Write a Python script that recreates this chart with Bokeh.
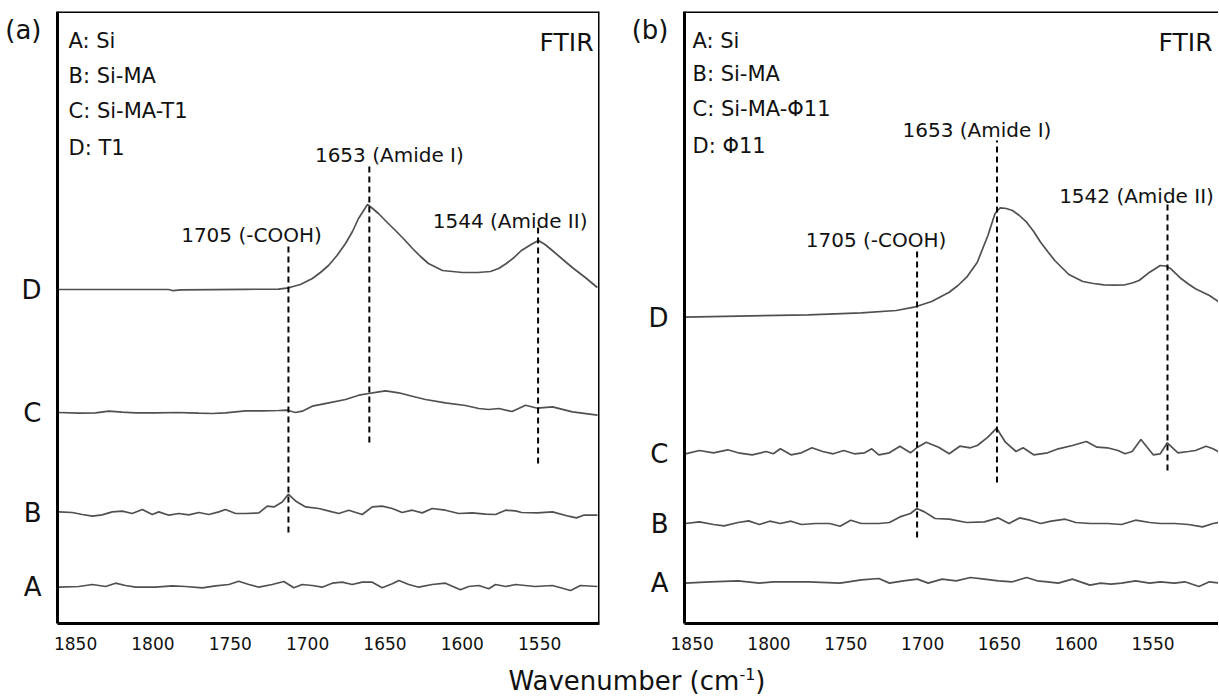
from bokeh.plotting import figure
from bokeh.models import Range1d, FixedTicker, Label, Span, Div
from bokeh.layouts import row, column
from bokeh.embed import file_html
from bokeh.resources import INLINE

FONT = "DejaVu Sans"

# ---------------- data: panel (a) ----------------
tick_values = [1850, 1800, 1750, 1700, 1650, 1600, 1550]
spectrum_names = ["A", "B", "C", "D"]

legend_a = ["A: Si", "B: Si-MA", "C: Si-MA-T1", "D: T1"]
legend_b = ["A: Si", "B: Si-MA", "C: Si-MA-\u03a611", "D: \u03a611"]

# absorbance (a.u., relative to each trace's own baseline)
wn_a_A = [1860.8, 1847.9, 1839.2, 1830.6, 1824.2, 1817.7, 1811.2, 1798.3, 1787.5, 1778.9, 1768.1, 1759.5,
          1750.9, 1744.5, 1738.0, 1731.5, 1722.9, 1715.4, 1708.9, 1703.5, 1697.0, 1690.6, 1684.1, 1677.6,
          1671.2, 1664.7, 1658.2, 1651.8, 1645.3, 1641.0, 1634.6, 1628.1, 1619.5, 1610.9, 1601.2, 1595.8,
          1589.3, 1582.9, 1578.5, 1572.0, 1565.6, 1553.0, 1541.7, 1530.0, 1523.6, 1512.6]
abs_a_A = [-0.7, 0, 2, 0, 3.3, 1, -0.7, -0.7, 0.7, 0, -1.3, 0.7, 2, 5.3, 2, -0.7, 2, 5, -1.3, 2, 1, -0.7,
           3.3, 4.3, 2, 4.3, 4.3, -1.3, 2.7, 6, 2, -0.7, 2, 3.3, -3.3, 0, 1, -2.3, 2, 0, 2, 0, 1, -4, 1, 0]

wn_a_B = [1860.8, 1852.2, 1845.7, 1839.2, 1832.8, 1826.3, 1819.8, 1813.4, 1806.9, 1800.4, 1796.2, 1789.7,
          1783.2, 1776.8, 1770.3, 1763.9, 1757.4, 1753.1, 1746.6, 1740.1, 1731.5, 1726.1, 1721.8, 1716.4,
          1712.5, 1707.8, 1701.3, 1692.8, 1684.1, 1679.8, 1673.4, 1664.7, 1658.2, 1651.8, 1645.3, 1638.9,
          1632.4, 1625.9, 1619.5, 1610.9, 1602.3, 1593.6, 1585.0, 1578.5, 1572.0, 1565.6, 1561.7, 1551.4,
          1541.7, 1531.3, 1526.2, 1521.6, 1512.6]
abs_a_B = [0.6, 0, -2, -3.7, -2.4, 0.6, 1.3, -1, 3, -2, 0.6, -2.7, -1, -2.4, 0, -2, 0.6, 3, -1, -1, -0.4,
           6.3, 5.6, 10.6, 18.3, 11.6, 5.6, 4, 0.6, -1, 2.3, -2, 5.6, 6.3, 4, 0, 2.3, -0.4, 4, 2.3, -1, -0.4,
           -1.7, -2, 2.3, 1.6, 0, -0.4, 0.6, -3.7, -5.4, -2.7, -2.7]

wn_a_C = [1860.8, 1847.9, 1837.1, 1828.5, 1819.9, 1811.2, 1798.3, 1783.2, 1776.8, 1770.3, 1761.7, 1753.1,
          1740.1, 1729.3, 1718.6, 1713.2, 1707.8, 1703.5, 1697.0, 1686.3, 1675.5, 1666.9, 1660.4, 1654.0,
          1649.6, 1641.1, 1632.4, 1623.8, 1610.9, 1598.0, 1589.3, 1582.9, 1576.4, 1567.8, 1559.1, 1551.4,
          1541.7, 1528.8, 1512.6]
abs_a_C = [0, -0.7, -0.3, 1.3, 0.3, -0.3, -0.3, 0, -0.3, -0.7, -1, -0.3, 1.7, 1.7, 2, 2.3, 0, 1.3, 6.3,
           9.7, 13, 17.3, 19, 20.7, 21.7, 19.7, 16.3, 13, 9.7, 7, 4, 3, 4, 1, 7.3, 4.3, 5.6, 0.6, -2.7]

wn_a_D = [1861.7, 1800.0, 1790.0, 1787.0, 1782.0, 1740.0, 1718.8, 1712.3, 1704.6, 1696.9, 1691.7, 1686.5,
          1681.0, 1675.5, 1671.0, 1667.1, 1661.3, 1658.0, 1654.2, 1648.5, 1643.2, 1637.5, 1632.2, 1627.0,
          1621.9, 1612.8, 1599.9, 1590.0, 1581.8, 1576.5, 1571.5, 1566.5, 1561.8, 1555.5, 1550.8, 1546.5,
          1541.8, 1535.0, 1528.9, 1520.5, 1512.7]
abs_a_D = [0, 0, 0, -1.2, -0.3, 0.2, 0.3, 1.7, 5, 11, 17, 24, 34, 46, 58, 71, 85, 81, 76, 67, 59, 50, 41,
           33, 26, 19, 17, 17, 18, 21, 26, 32, 39, 45, 49, 45, 39, 30, 22, 12, 2]

peak_labels_a = ["1705 (-COOH)", "1653 (Amide I)", "1544 (Amide II)"]
peak_pos_a = [1712.4, 1660.1, 1551.0]
peak_top_a = [381, 461, 400]
peak_bot_a = [91, 181, 160]

# ---------------- data: panel (b) ----------------
wn_b_A = [1854.4, 1838.4, 1820.1, 1806.3, 1797.2, 1774.3, 1753.7, 1739.9, 1728.5, 1721.6, 1712.5, 1703.3,
          1696.4, 1687.3, 1678.1, 1668.9, 1659.8, 1650.7, 1641.5, 1632.3, 1625.5, 1618.6, 1611.7, 1602.5,
          1591.1, 1584.2, 1577.3, 1570.5, 1561.4, 1552.2, 1545.3, 1536.1, 1529.3, 1520.1, 1513.3, 1506.8]
abs_b_A = [-0.6, 0.7, 1.7, -0.6, 0.7, 0.7, -0.6, 2.7, 4, -0.6, 1.7, 3.4, -0.6, 3.4, 1.7, 5, 3.4, 1.7, 0.7,
           5, 1.7, 0.7, -0.6, 3.4, -2.6, -0.6, -1.6, -0.6, 1.7, -0.6, 0.7, -0.6, 0.7, -4, 0.7, -0.6]

wn_b_B = [1854.4, 1845.3, 1836.1, 1829.3, 1820.1, 1813.2, 1806.3, 1799.5, 1792.6, 1785.7, 1778.9, 1769.7,
          1760.5, 1753.7, 1746.8, 1739.9, 1728.5, 1721.6, 1714.8, 1707.9, 1703.8, 1698.8, 1691.9, 1682.7,
          1671.3, 1659.8, 1650.7, 1643.8, 1636.9, 1630.1, 1623.2, 1616.3, 1607.2, 1600.3, 1591.1, 1579.7,
          1570.5, 1561.4, 1552.2, 1545.3, 1536.1, 1527.0, 1517.8, 1510.9, 1506.8]
abs_b_B = [0, 1.6, -1, -2.4, 1, 2.6, -1, 2.3, 0, 2.3, -1, 0, 0, -2.7, 3.3, 0, 0, 1, 6.6, 10, 15, 11.6, 5,
           4.3, 1, 1.6, 5.6, 0, 5.6, 3.3, 0, 2.3, 4.3, 1, 0, 0, -1, 3.3, 1, 0, 0, -1, -3.4, 0, 1]

wn_b_C = [1854.4, 1845.3, 1836.1, 1826.9, 1820.1, 1810.9, 1801.8, 1797.2, 1792.6, 1785.7, 1778.9, 1772.0,
          1765.1, 1758.2, 1751.4, 1744.5, 1737.7, 1733.1, 1728.5, 1721.6, 1714.8, 1707.9, 1703.3, 1697.6,
          1689.6, 1682.7, 1675.8, 1668.9, 1664.4, 1657.5, 1651.8, 1646.1, 1639.2, 1634.6, 1627.7, 1618.6,
          1611.7, 1602.5, 1593.4, 1586.5, 1579.7, 1572.8, 1568.2, 1563.6, 1557.9, 1549.9, 1545.3, 1540.7,
          1533.8, 1527.0, 1522.4, 1515.5, 1510.9, 1506.8]
abs_b_C = [-0.3, 3, 0.7, 3.7, 0.7, -1.3, 2, -0.3, 4.7, -1.3, 0.7, 5.7, 2, -0.3, 3, -0.3, 0.7, 4.7, -1.3,
           0.7, 7.3, 0.7, 6.3, 11.3, 6.3, -0.3, 7.3, 5.7, 8, 16.3, 25.3, 11.3, 2, 5.7, -1.3, 0.7, 4.7, 8, 12,
           6.3, 5.7, 3, -0.3, 2, 14, -1.3, -0.3, 10.7, 0.7, 2, 3, 7.3, 4.7, 1.3]

wn_b_D = [1855.6, 1820.1, 1774.3, 1739.9, 1717.1, 1705.6, 1694.1, 1682.7, 1677.0, 1671.3, 1664.4, 1657.5,
          1652.9, 1649.5, 1645.5, 1641.5, 1637.0, 1632.3, 1627.7, 1623.2, 1618.6, 1614.0, 1604.8, 1595.7,
          1588.8, 1581.9, 1575.0, 1568.2, 1563.6, 1559.1, 1552.2, 1545.3, 1541.8, 1538.4, 1531.6, 1527.0,
          1522.4, 1513.3, 1506.8]
abs_b_D = [0.3, 1.3, 2.7, 4.7, 7, 10.3, 16, 25.3, 32, 40.3, 55.3, 82, 103.7, 109.7, 109, 107, 102, 95.3,
           86, 75.3, 66, 57, 43, 36, 34, 32.7, 32.3, 32.7, 34.5, 37, 45.3, 52, 51.5, 48.7, 38.7, 33.5, 28.7,
           22, 15.3]

peak_labels_b = ["1705 (-COOH)", "1653 (Amide I)", "1542 (Amide II)"]
peak_pos_b = [1703.6, 1651.6, 1540.6]
peak_top_b = [375, 483, 420]
peak_bot_b = [86, 141, 153]

# ---------------- layout / style ----------------
offsets_a = [37, 111, 211, 334]
offsets_b = [41, 100, 170, 306]
TAG_Y = 594
CURVE = "#505050"


def panel(tag, xr, width, mbl, mbr, traces, offsets, legend, p_labels, p_pos, p_top, p_bot,
          lab_dx, lab_gap, right_border, ftir_dx):
    p = figure(width=width, height=656, x_range=Range1d(*xr), y_range=Range1d(0, 612),
               output_backend="svg", toolbar_location=None,
               min_border_left=mbl, min_border_right=mbr, min_border_top=11, min_border_bottom=33)
    p.outline_line_color = None
    p.xgrid.grid_line_color = None
    p.ygrid.grid_line_color = None
    p.background_fill_color = "white"
    p.border_fill_color = "white"

    xa = p.xaxis[0]
    xa.ticker = FixedTicker(ticks=tick_values)
    xa.major_tick_line_color = None
    xa.minor_tick_line_color = None
    xa.axis_line_width = 3
    xa.axis_line_color = "black"
    xa.major_label_text_font = FONT
    xa.major_label_text_font_size = "17px"
    xa.major_label_text_color = "#111111"
    xa.major_label_standoff = 7

    ya = p.yaxis[0]
    ya.ticker = FixedTicker(ticks=offsets + [TAG_Y])
    overrides = {o: n for o, n in zip(offsets, spectrum_names)}
    overrides[TAG_Y] = "(" + tag + ")"
    ya.major_label_overrides = overrides
    ya.major_tick_line_color = None
    ya.minor_tick_line_color = None
    ya.axis_line_width = 3
    ya.axis_line_color = "black"
    ya.major_label_text_font = FONT
    ya.major_label_text_font_size = "26px"
    ya.major_label_text_color = "#111111"
    ya.major_label_standoff = 10

    p.add_layout(Span(location=612, dimension="width", line_width=3, line_color="black"))
    if right_border:
        p.add_layout(Span(location=xr[1], dimension="height", line_width=3, line_color="black"))

    for (wn, ab), off in zip(traces, offsets):
        p.line(wn, [a + off for a in ab], line_color=CURVE, line_width=1.7)

    p.segment(x0=p_pos, y0=p_bot, x1=p_pos, y1=p_top, line_color="black",
              line_width=2, line_dash="6 4")
    for txt, x, top, dx, gap in zip(p_labels, p_pos, p_top, lab_dx, lab_gap):
        p.add_layout(Label(x=x, y=top + gap, text=txt, x_offset=dx, text_align="center",
                           text_baseline="alphabetic", text_font=FONT, text_font_size="20px",
                           text_color="#111111"))

    for txt, yb in zip(legend, legend_ys[tag]):
        p.add_layout(Label(x=xr[0], y=yb, x_offset=legend_dx[tag], text=txt, text_align="left",
                           text_baseline="alphabetic", text_font=FONT, text_font_size="21px",
                           text_color="#111111"))
    p.add_layout(Label(x=xr[1], y=581, x_offset=ftir_dx, text="FTIR", text_align="right",
                       text_baseline="alphabetic", text_font=FONT, text_font_size="25px",
                       text_color="#111111"))
    return p


legend_ys = {"a": [583, 548, 513, 476], "b": [583, 550, 515, 478]}
legend_dx = {"a": 11, "b": 8}

p1 = panel("a", (1861.7, 1511.3), 628, 57, 29,
           [(wn_a_A, abs_a_A), (wn_a_B, abs_a_B), (wn_a_C, abs_a_C), (wn_a_D, abs_a_D)],
           offsets_a, legend_a, peak_labels_a, peak_pos_a, peak_top_a, peak_bot_a,
           [-37, 20, -28], [7.5, 7.5, 2.5], True, -6)
p2 = panel("b", (1855.0, 1507.4), 590, 49, 0,
           [(wn_b_A, abs_b_A), (wn_b_B, abs_b_B), (wn_b_C, abs_b_C), (wn_b_D, abs_b_D)],
           offsets_b, legend_b, peak_labels_b, peak_pos_b, peak_top_b, peak_bot_b,
           [-41, -20, -31], [8.5, 10.5, 7.5], False, -6)

xlabel = Div(
    text=('<div style="width:1218px;box-sizing:border-box;padding-left:46px;padding-top:5px;'
          'text-align:center;font-family:\'DejaVu Sans\';font-size:26px;line-height:30px;color:#111111;">'
          'Wavenumber (cm<sup style="font-size:16px;line-height:0;">-1</sup>)</div>'),
    width=1218, height=40)

layout = column(row(p1, p2), xlabel)

open("out.html", "w").write(file_html(layout, INLINE, "FTIR"))
